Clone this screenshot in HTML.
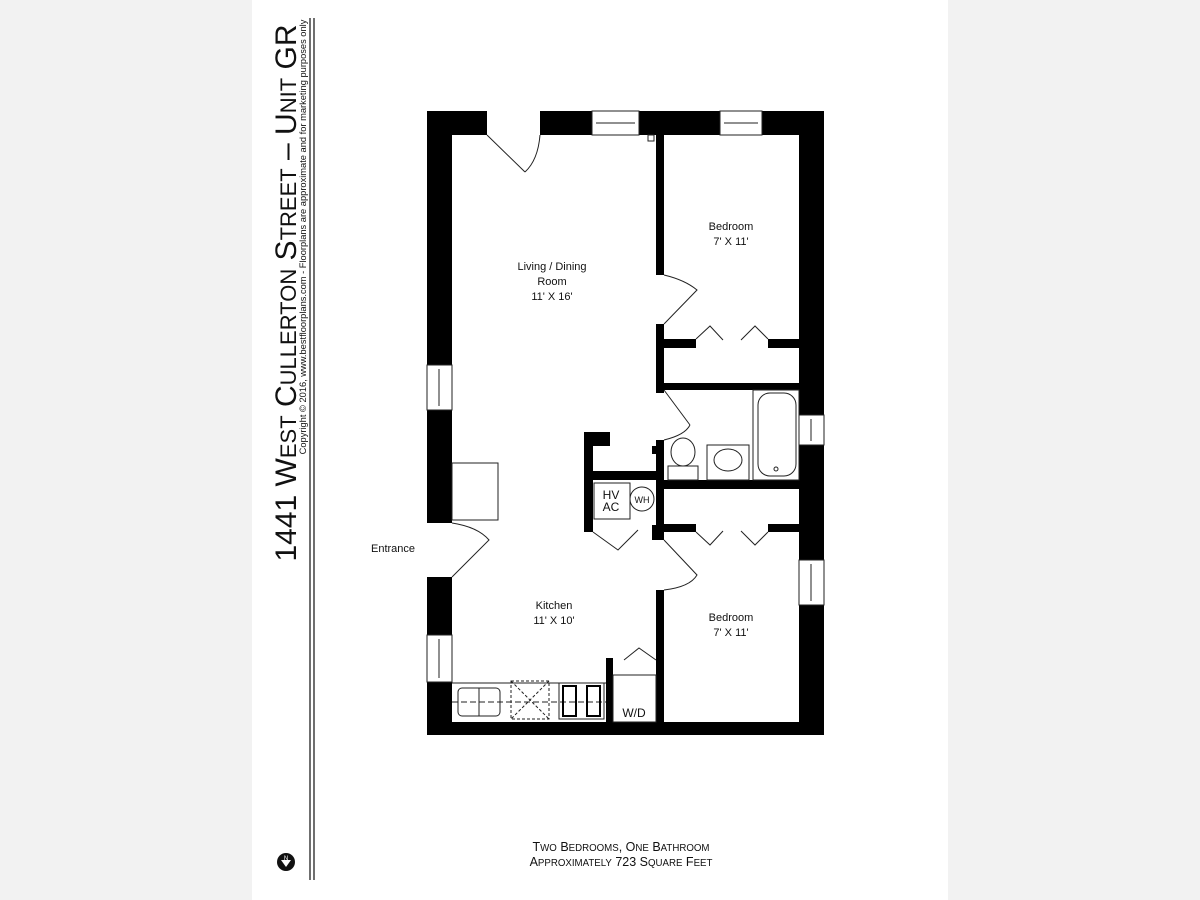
<!DOCTYPE html>
<html><head><meta charset="utf-8"><style>
html,body{margin:0;padding:0;background:#f2f2f2;}
svg{display:block}
text{font-family:"Liberation Sans",Arial,sans-serif;fill:#111}
</style></head><body>
<svg width="1200" height="900" viewBox="0 0 1200 900" xmlns="http://www.w3.org/2000/svg">
<rect x="0" y="0" width="1200" height="900" fill="#f2f2f2"/>
<rect x="252" y="0" width="696" height="900" fill="#fff"/>
<!-- title -->
<text transform="translate(296,293) rotate(-90)" text-anchor="middle" font-size="30">1441 W<tspan font-size="22">EST</tspan> C<tspan font-size="22">ULLERTON</tspan> S<tspan font-size="22">TREET</tspan> – U<tspan font-size="22">NIT</tspan> GR</text>
<text transform="translate(306,237) rotate(-90)" text-anchor="middle" font-size="9.3">Copyright © 2016, www.bestfloorplans.com - Floorplans are approximate and for marketing purposes only</text>
<line x1="310" y1="18" x2="310" y2="880" stroke="#222" stroke-width="1.3"/>
<line x1="314" y1="18" x2="314" y2="880" stroke="#222" stroke-width="1.3"/>
<!-- north icon -->
<circle cx="286" cy="862" r="9" fill="#111"/>
<path d="M281 860 h10 l-5 7 z" fill="#fff"/>
<text x="286" y="860" font-size="6" text-anchor="middle" style="fill:#fff">N</text>
<!-- bottom text -->
<text x="621" y="851" text-anchor="middle" font-size="12.5">T<tspan font-size="9.7">WO</tspan> B<tspan font-size="9.7">EDROOMS</tspan>, O<tspan font-size="9.7">NE</tspan> B<tspan font-size="9.7">ATHROOM</tspan></text>
<text x="621" y="866" text-anchor="middle" font-size="12.5">A<tspan font-size="9.7">PPROXIMATELY</tspan> 723 S<tspan font-size="9.7">QUARE</tspan> F<tspan font-size="9.7">EET</tspan></text>

<g fill="#000">
<rect x="427" y="111" width="60" height="24"/>
<rect x="540" y="111" width="52" height="24"/>
<rect x="639" y="111" width="81" height="24"/>
<rect x="762" y="111" width="62" height="24"/>
<rect x="427" y="111" width="25" height="254"/>
<rect x="427" y="410" width="25" height="113"/>
<rect x="427" y="577" width="25" height="58"/>
<rect x="427" y="682" width="25" height="53"/>
<rect x="799" y="111" width="25" height="304"/>
<rect x="799" y="445" width="25" height="115"/>
<rect x="799" y="605" width="25" height="130"/>
<rect x="427" y="722" width="397" height="13"/>
<rect x="656" y="135" width="8" height="140"/>
<rect x="656" y="324" width="8" height="69"/>
<rect x="664" y="339" width="32" height="9"/>
<rect x="768" y="339" width="31" height="9"/>
<rect x="664" y="383" width="135" height="7"/>
<rect x="656" y="440" width="8" height="100"/>
<rect x="652" y="525" width="12" height="15"/>
<rect x="664" y="480" width="135" height="9"/>
<rect x="664" y="524" width="32" height="8"/>
<rect x="768" y="524" width="31" height="8"/>
<rect x="656" y="590" width="8" height="132"/>
<rect x="584" y="432" width="9" height="100"/>
<rect x="584" y="432" width="26" height="14"/>
<rect x="593" y="471" width="63" height="9"/>
<rect x="652" y="446" width="4" height="8"/>
<rect x="606" y="658" width="7" height="64"/>
</g>
<g fill="none" stroke="#222" stroke-width="1">
<rect x="592" y="111" width="47" height="24"/><line x1="596" y1="123" x2="635" y2="123"/>
<rect x="720" y="111" width="42" height="24"/><line x1="724" y1="123" x2="758" y2="123"/>
<rect x="427" y="365" width="25" height="45"/><line x1="439" y1="369" x2="439" y2="406"/>
<rect x="427" y="635" width="25" height="47"/><line x1="439" y1="639" x2="439" y2="678"/>
<rect x="799" y="415" width="25" height="30"/><line x1="811" y1="419" x2="811" y2="441"/>
<rect x="799" y="560" width="25" height="45"/><line x1="811" y1="564" x2="811" y2="601"/>
<rect x="648" y="135" width="6" height="6"/>
<path d="M487 135 L525 172 M540 135 Q538 160 525 172"/>
<path d="M664 275 Q685 280 697 290 L664 324"/>
<path d="M664 390 L690 425 M690 425 Q685 435 664 440"/>
<path d="M452 523 Q478 527 489 540 L452 577"/>
<path d="M664 540 L697 575 Q690 587 664 590"/>
<path d="M696 339 L710 326 L723 340 M768 339 L755 326 L741 340"/>
<path d="M696 532 L710 545 L723 531 M768 532 L755 545 L741 531"/>
<path d="M593 532 L618 550 L638 530"/>
<path d="M624 660 L639 648 L656 660"/>
<rect x="753" y="390" width="46" height="90"/>
<rect x="758" y="393" width="38" height="83" rx="12"/>
<circle cx="776" cy="469" r="2"/>
<rect x="668" y="466" width="30" height="14"/>
<ellipse cx="683" cy="452" rx="12" ry="14"/>
<rect x="707" y="445" width="42" height="35"/>
<ellipse cx="728" cy="460" rx="14" ry="11"/>
<rect x="594" y="483" width="36" height="36"/>
<circle cx="642" cy="499" r="12"/>
<rect x="452" y="463" width="46" height="57"/>
<line x1="452" y1="683" x2="606" y2="683"/>
<rect x="458" y="688" width="42" height="28" rx="4"/>
<line x1="479" y1="688" x2="479" y2="716"/>
<rect x="511" y="681" width="38" height="38" stroke-dasharray="3,2"/>
<path d="M511 681 L549 719 M549 681 L511 719" stroke-dasharray="3,2"/>
<rect x="559" y="683" width="45" height="36"/>
<line x1="452" y1="702" x2="606" y2="702" stroke-dasharray="6,3"/>
<rect x="613" y="675" width="43" height="47"/>
</g>
<g fill="none" stroke="#000" stroke-width="2">
<rect x="563" y="686" width="13" height="30"/>
<rect x="587" y="686" width="13" height="30"/>
</g>
<g font-size="11" text-anchor="middle">
<text x="552" y="270">Living / Dining</text>
<text x="552" y="285">Room</text>
<text x="552" y="300">11' X 16'</text>
<text x="731" y="230">Bedroom</text>
<text x="731" y="245">7' X 11'</text>
<text x="554" y="609">Kitchen</text>
<text x="554" y="624">11' X 10'</text>
<text x="731" y="621">Bedroom</text>
<text x="731" y="636">7' X 11'</text>
<text x="393" y="552">Entrance</text>
<text x="634" y="717" font-size="12">W/D</text>
<text x="611" y="499" font-size="12">HV</text>
<text x="611" y="511" font-size="12">AC</text>
<text x="642" y="503" font-size="9">WH</text>
</g>
</svg>
</body></html>
